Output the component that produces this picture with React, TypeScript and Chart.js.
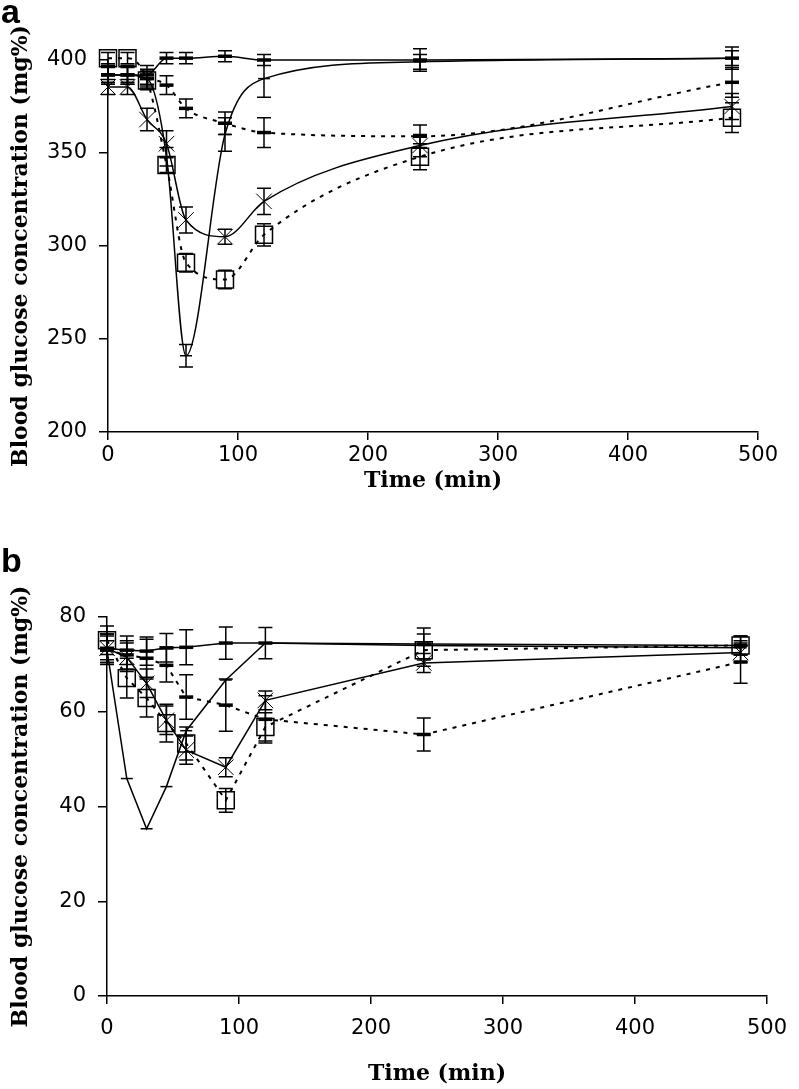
import React, { useEffect, useRef } from "react";
import { Chart, registerables } from "chart.js";

Chart.register(...registerables);

// ---- shared ----
const timesMin = [0, 15, 30, 45, 60, 90, 120, 240, 480];
const xTickValues = [0, 100, 200, 300, 400, 500];

// ---- panel a (mg%) ----
const aYTicks = [200, 250, 300, 350, 400];
const aControl = [392, 392, 392, 401, 401, 402, 400, 400, 401];
const aControlErr = [5, 5, 5, 3, 3, 3, 3, 6, 6];
const aStandard = [392, 392, 390, 348, 241, 360, 390, 399, 401];
const aStandardErr = [4, 4, 4, 5, 6, 9, 10, 4, 4];
const aCross = [385.5, 385.5, 368, 355, 314, 305, 324, 354, 375];
const aCrossErr = [4, 4, 6, 7, 7, 4, 7, 6, 7];
const aSquare = [401, 401, 389, 343.5, 291, 282, 306, 348, 369];
const aSquareErr = [3, 3, 5, 4, 5, 5, 6, 7, 8];
const aDash = [392, 392, 390, 386.5, 374, 366, 361, 359, 388];
const aDashErr = [5, 5, 5, 5, 5, 6, 8, 6, 8];

// ---- panel b (mg%) ----
const bYTicks = [0, 20, 40, 60, 80];
const bControl = [73.4, 73, 72.8, 73.5, 73.6, 74.5, 74.5, 74.3, 74];
const bControlErr = [3, 3, 3, 3, 3.7, 3.4, 3.3, 3.4, 2];
const bStandard = [73, 45.9, 35.3, 44.2, 56, 66.7, 74.5, 74, 73.5];
const bStandardErr = [2, 0, 0, 0, 0, 0, 0, 0, 0];
const bCross = [73.4, 71.5, 66, 58.2, 51.9, 48.3, 62.4, 70.3, 72.5];
const bCrossErr = [3, 3, 3, 3, 3, 2, 2, 2, 2];
const bSquare = [75.1, 67.1, 62.9, 57.6, 53.3, 41.3, 56.8, 73, 74];
const bSquareErr = [3, 4.2, 4, 4, 3.5, 2.5, 3, 3.4, 2];
const bDash = [73, 72, 71.3, 69.8, 63.1, 61.4, 58.4, 55.2, 70.5];
const bDashErr = [3, 3, 4, 3.5, 4.7, 5.5, 5, 3.5, 4.5];

const toPts = (vals: number[]) => timesMin.map((t, i) => ({ x: t, y: vals[i] }));

const errorBarPlugin = {
  id: "errorBars",
  afterDatasetsDraw(chart: any) {
    const ctx = chart.ctx;
    const ys = chart.scales.y;
    const cap = 7;
    ctx.save();
    ctx.strokeStyle = "#000";
    ctx.lineWidth = 1.5;
    chart.data.datasets.forEach((ds: any, i: number) => {
      const errs = ds.errors as number[] | undefined;
      if (!errs) return;
      const meta = chart.getDatasetMeta(i);
      meta.data.forEach((pt: any, j: number) => {
        const e = errs[j];
        if (!e) return;
        const v = ds.data[j].y;
        const x = pt.x;
        const y1 = ys.getPixelForValue(v - e);
        const y2 = ys.getPixelForValue(v + e);
        ctx.beginPath();
        ctx.moveTo(x, y1);
        ctx.lineTo(x, y2);
        ctx.moveTo(x - cap, y1);
        ctx.lineTo(x + cap, y1);
        ctx.moveTo(x - cap, y2);
        ctx.lineTo(x + cap, y2);
        ctx.stroke();
      });
    });
    ctx.restore();
  },
};

type Series = { vals: number[]; errs: number[]; kind: "control" | "standard" | "cross" | "square" | "dash" };

function makeDatasets(series: Series[], smooth: boolean) {
  return series.map((s) => {
    const base: any = {
      data: toPts(s.vals),
      errors: s.errs,
      borderColor: "#000",
      borderWidth: 1.5,
      pointBorderColor: "#000",
      pointBackgroundColor: "rgba(0,0,0,0)",
      fill: false,
      clip: false,
      tension: smooth ? 0.4 : 0,
      cubicInterpolationMode: smooth ? "monotone" : "default",
    };
    if (s.kind === "control") {
      Object.assign(base, { pointStyle: "line", pointRadius: 7, pointBorderWidth: 3.5 });
    } else if (s.kind === "standard") {
      Object.assign(base, { pointStyle: "line", pointRadius: 6, pointBorderWidth: 1.5 });
    } else if (s.kind === "cross") {
      Object.assign(base, { pointStyle: "crossRot", pointRadius: 11, pointBorderWidth: 1 });
    } else if (s.kind === "square") {
      Object.assign(base, { pointStyle: "rect", pointRadius: 12, pointBorderWidth: 1.5, borderDash: [4, 6], borderWidth: 2 });
    } else {
      Object.assign(base, { pointStyle: "line", pointRadius: 7, pointBorderWidth: 3.5, borderDash: [4, 6], borderWidth: 2 });
    }
    return base;
  });
}

function makeConfig(opts: {
  series: Series[];
  smooth: boolean;
  yMin: number;
  yMax: number;
  yTicks: number[];
  yWidth: number;
  xHeight: number;
  padTop: number;
  padRight: number;
  xTickPad: number;
  xTitlePadBottom: number;
}): any {
  const tickFont = { family: "DejaVu Sans", size: 21 };
  const titleFont = { family: "DejaVu Serif", size: 22, weight: "bold" as const };
  return {
    type: "line",
    data: { datasets: makeDatasets(opts.series, opts.smooth) },
    options: {
      animation: false,
      responsive: false,
      devicePixelRatio: 1,
      layout: { padding: { left: 0, right: opts.padRight, top: opts.padTop, bottom: 0 } },
      plugins: { legend: { display: false }, tooltip: { enabled: false } },
      scales: {
        x: {
          type: "linear",
          min: 0,
          max: 500,
          afterFit: (s: any) => {
            s.height = opts.xHeight;
          },
          afterBuildTicks: (s: any) => {
            s.ticks = xTickValues.map((v) => ({ value: v }));
          },
          ticks: { font: tickFont, color: "#000", padding: opts.xTickPad, maxRotation: 0, autoSkip: false },
          grid: { drawOnChartArea: false, drawTicks: true, tickLength: 8, color: "#000", lineWidth: 1.5 },
          border: { display: true, color: "#000", width: 1.5 },
          title: {
            display: true,
            text: "Time (min)",
            font: titleFont,
            color: "#000",
            padding: { top: 0, bottom: opts.xTitlePadBottom },
          },
        },
        y: {
          type: "linear",
          min: opts.yMin,
          max: opts.yMax,
          afterFit: (s: any) => {
            s.width = opts.yWidth;
          },
          afterBuildTicks: (s: any) => {
            s.ticks = opts.yTicks.map((v) => ({ value: v }));
          },
          ticks: { font: tickFont, color: "#000", padding: 12, autoSkip: false },
          grid: { drawOnChartArea: false, drawTicks: true, tickLength: 9, color: "#000", lineWidth: 1.5 },
          border: { display: true, color: "#000", width: 1.5 },
          title: {
            display: true,
            text: "Blood glucose concentration (mg%)",
            font: titleFont,
            color: "#000",
            padding: { top: 8, bottom: 0 },
          },
        },
      },
    },
    plugins: [errorBarPlugin],
  };
}

function Panel(props: { top: number; height: number; config: any }) {
  const ref = useRef<HTMLCanvasElement | null>(null);
  useEffect(() => {
    if (!ref.current) return;
    const chart = new Chart(ref.current, props.config);
    return () => chart.destroy();
  }, []);
  return (
    <canvas
      ref={ref}
      width={799}
      height={props.height}
      style={{ position: "absolute", left: 0, top: props.top, width: 799, height: props.height }}
    />
  );
}

const letterStyle: React.CSSProperties = {
  position: "absolute",
  left: 1,
  fontFamily: "Liberation Sans",
  fontWeight: "bold",
  fontSize: 34,
  lineHeight: "34px",
  color: "#000",
};

export default function App() {
  const configA = makeConfig({
    series: [
      { vals: aControl, errs: aControlErr, kind: "control" },
      { vals: aStandard, errs: aStandardErr, kind: "standard" },
      { vals: aCross, errs: aCrossErr, kind: "cross" },
      { vals: aSquare, errs: aSquareErr, kind: "square" },
      { vals: aDash, errs: aDashErr, kind: "dash" },
    ],
    smooth: true,
    yMin: 200,
    yMax: 400,
    yTicks: aYTicks,
    yWidth: 108,
    xHeight: 68,
    padTop: 60,
    padRight: 41,
    xTickPad: 3,
    xTitlePadBottom: 6,
  });
  const configB = makeConfig({
    series: [
      { vals: bControl, errs: bControlErr, kind: "control" },
      { vals: bStandard, errs: bStandardErr, kind: "standard" },
      { vals: bCross, errs: bCrossErr, kind: "cross" },
      { vals: bSquare, errs: bSquareErr, kind: "square" },
      { vals: bDash, errs: bDashErr, kind: "dash" },
    ],
    smooth: false,
    yMin: 0,
    yMax: 80,
    yTicks: bYTicks,
    yWidth: 107,
    xHeight: 93,
    padTop: 77,
    padRight: 22,
    xTickPad: 12,
    xTitlePadBottom: 2,
  });
  return (
    <div style={{ position: "absolute", left: 0, top: 0, width: 799, height: 1089, background: "#fff", overflow: "hidden" }}>
      <Panel top={0} height={500} config={configA} />
      <Panel top={540} height={549} config={configB} />
      <div style={{ ...letterStyle, top: -6 }}>a</div>
      <div style={{ ...letterStyle, top: 543 }}>b</div>
    </div>
  );
}
